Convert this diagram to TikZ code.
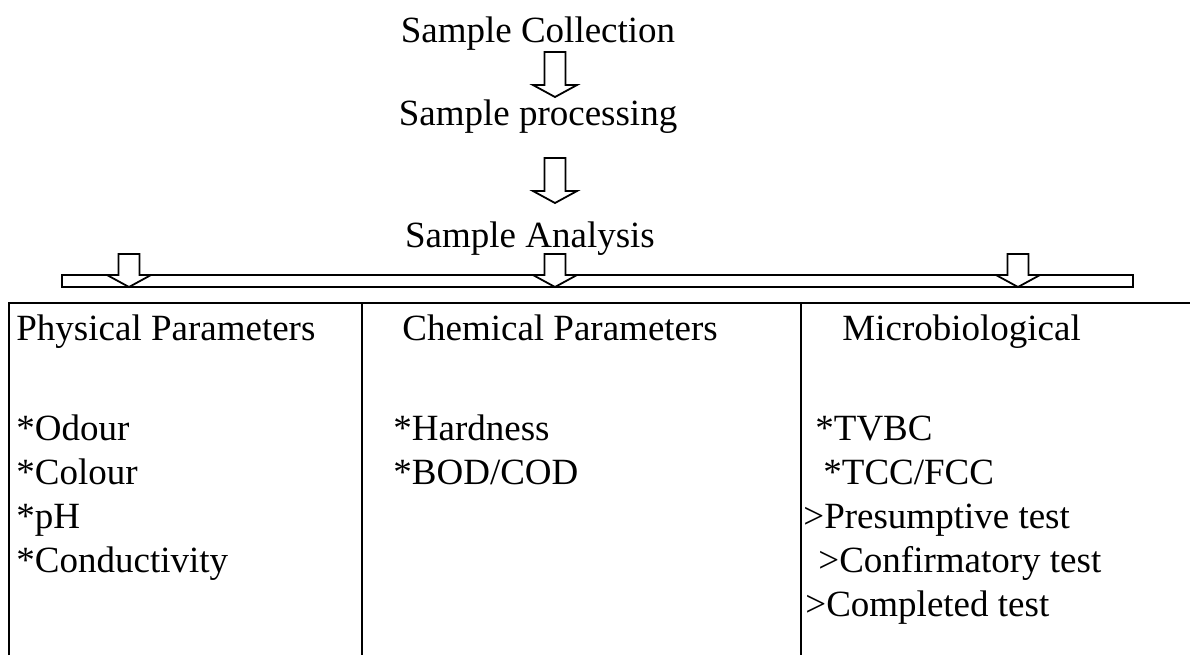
\documentclass[tikz,border=0pt]{standalone}
\usepackage{fontspec}
\setmainfont{Liberation Serif}
\usetikzlibrary{positioning}

\begin{document}
\begin{tikzpicture}[x=0.5pt,y=-0.5pt,
    stage/.style={inner sep=0pt,anchor=base,font=\fontsize{18.5}{22}\selectfont},
    item/.style={inner sep=0pt,anchor=base west,font=\fontsize{18.5}{22}\selectfont},
    rule/.style={line width=0.9pt},
    blk/.style={draw,line width=0.9pt,fill=white},
    pics/downarr/.style={code={\draw[blk] (-10.5,0) -- (10.5,0) -- (10.5,33) -- (22,33) -- (0,45) -- (-22,33) -- (-10.5,33) -- cycle;}},
    pics/branch/.style={code={\draw[blk] (-10.5,0) -- (10.5,0) -- (10.5,21) -- (22,21) -- (0,33) -- (-22,21) -- (-10.5,21) -- cycle;}}]
    \useasboundingbox (0,0) rectangle (1190,655);
    % flow
    \node[stage] (coll) at (538,42) {Sample Collection};
    \node[stage] (proc) at (538,125) {Sample processing};
    \node[stage] (anal) at (530,247) {Sample Analysis};
    \path (coll.base) ++(17,10) pic {downarr};
    \path (proc.base) ++(17,33) pic {downarr};
    % splitting bar
    \draw[rule] (62,275) rectangle (1133,287);
    \foreach \x in {129,555,1018}
      \pic at (\x,254) {branch};
    % table
    \draw[rule] (9,655) -- (9,303) -- (1190,303);
    \draw[rule] (362,303) -- (362,655);
    \draw[rule] (801,303) -- (801,655);
    \node[item] (phys) at (16,340) {Physical Parameters};
    \node[item] (odour) at (16,440) {*Odour};
    \node[item] (colour) at (16,484) {*Colour};
    \node[item] (ph) at (16,528) {*pH};
    \node[item] (cond) at (16,572) {*Conductivity};
    \node[item] (chem) at (402,340) {Chemical Parameters};
    \node[item] (hard) at (393,440) {*Hardness};
    \node[item] (bod) at (393,484) {*BOD/COD};
    \node[item] (micro) at (842,340) {Microbiological};
    \node[item] (tvbc) at (815,440) {*TVBC};
    \node[item] (tcc) at (823,484) {*TCC/FCC};
    \node[item] (pres) at (803,528) {>Presumptive test};
    \node[item] (conf) at (818,572) {>Confirmatory test};
    \node[item] (comp) at (805,616) {>Completed test};
\end{tikzpicture}
\end{document}
